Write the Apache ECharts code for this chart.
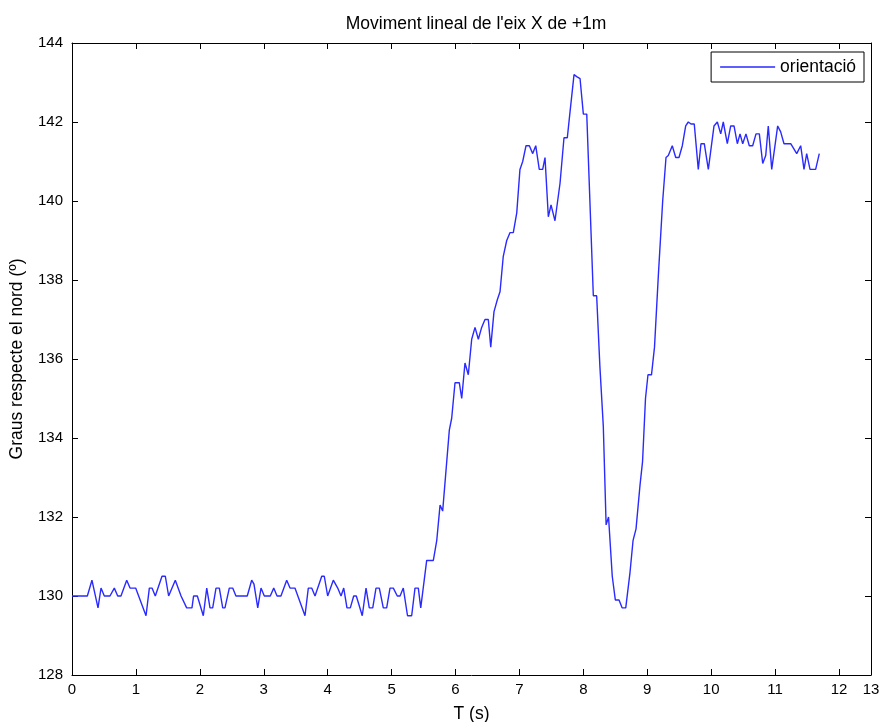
<!DOCTYPE html>
<html>
<head>
<meta charset="utf-8">
<script src="https://cdn.jsdelivr.net/npm/echarts@6/dist/echarts.min.js"></script>
<style>
  html, body { margin: 0; padding: 0; background: #ffffff; }
  #chart { width: 883px; height: 722px; }
</style>
</head>
<body>
<div id="chart"></div>
<script>
// Temps (s) de cada mostra
const timeS = [
  0.0, 0.240, 0.312, 0.407, 0.454, 0.506, 0.594, 0.662, 0.715, 0.766,
  0.856, 0.908, 0.996, 1.158, 1.210, 1.252, 1.303, 1.408, 1.460, 1.512,
  1.616, 1.706, 1.794, 1.877, 1.902, 1.961, 2.054, 2.108, 2.159, 2.201,
  2.253, 2.305, 2.358, 2.393, 2.461, 2.514, 2.565, 2.742, 2.811, 2.847,
  2.906, 2.957, 3.009, 3.102, 3.156, 3.208, 3.269, 3.359, 3.411, 3.488,
  3.645, 3.697, 3.750, 3.802, 3.907, 3.947, 4.000, 4.088, 4.157, 4.209,
  4.251, 4.302, 4.354, 4.407, 4.448, 4.541, 4.600, 4.651, 4.705, 4.756,
  4.808, 4.870, 4.923, 4.975, 5.027, 5.089, 5.132, 5.183, 5.249, 5.314,
  5.366, 5.418, 5.456, 5.549, 5.653, 5.706, 5.758, 5.799, 5.903, 5.940,
  5.992, 6.059, 6.097, 6.148, 6.200, 6.253, 6.305, 6.357, 6.409, 6.461,
  6.513, 6.551, 6.602, 6.654, 6.696, 6.747, 6.801, 6.853, 6.904, 6.958,
  7.008, 7.051, 7.103, 7.155, 7.208, 7.255, 7.310, 7.364, 7.400, 7.452,
  7.494, 7.556, 7.635, 7.697, 7.749, 7.791, 7.854, 7.896, 7.948, 8.000,
  8.053, 8.156, 8.208, 8.259, 8.312, 8.356, 8.394, 8.452, 8.500, 8.558,
  8.606, 8.663, 8.730, 8.777, 8.824, 8.886, 8.926, 8.972, 9.011, 9.066,
  9.113, 9.176, 9.241, 9.293, 9.329, 9.391, 9.445, 9.496, 9.548, 9.601,
  9.642, 9.684, 9.735, 9.798, 9.840, 9.892, 9.955, 10.044, 10.096, 10.149,
  10.189, 10.252, 10.305, 10.357, 10.409, 10.451, 10.493, 10.544, 10.596, 10.649,
  10.701, 10.753, 10.806, 10.853, 10.893, 10.947, 11.040, 11.087, 11.139, 11.244,
  11.338, 11.400, 11.452, 11.494, 11.546, 11.634, 11.691
];

// Orientació (graus respecte el nord)
const orientacio = [
  130.0, 130.0, 130.4, 129.7, 130.2, 130.0, 130.0, 130.2, 130.0, 130.0,
  130.4, 130.2, 130.2, 129.5, 130.2, 130.2, 130.0, 130.5, 130.5, 130.0,
  130.4, 130.0, 129.7, 129.7, 130.0, 130.0, 129.5, 130.2, 129.7, 129.7,
  130.2, 130.2, 129.7, 129.7, 130.2, 130.2, 130.0, 130.0, 130.4, 130.3,
  129.7, 130.2, 130.0, 130.0, 130.2, 130.0, 130.0, 130.4, 130.2, 130.2,
  129.5, 130.2, 130.2, 130.0, 130.5, 130.5, 130.0, 130.4, 130.2, 130.0,
  130.2, 129.7, 129.7, 130.0, 130.0, 129.5, 130.2, 129.7, 129.7, 130.2,
  130.2, 129.7, 129.7, 130.2, 130.2, 130.0, 130.0, 130.2, 129.5, 129.5,
  130.2, 130.2, 129.7, 130.9, 130.9, 131.4, 132.3, 132.15, 134.2, 134.5,
  135.4, 135.4, 135.0, 135.9, 135.6, 136.5, 136.8, 136.5, 136.8, 137.0,
  137.0, 136.3, 137.2, 137.5, 137.7, 138.6, 139.0, 139.2, 139.2, 139.7,
  140.8, 141.0, 141.4, 141.4, 141.2, 141.4, 140.8, 140.8, 141.1, 139.6,
  139.9, 139.5, 140.45, 141.6, 141.6, 142.25, 143.2, 143.15, 143.1, 142.2,
  142.2, 137.6, 137.6, 135.8, 134.3, 131.8, 132.0, 130.5, 129.9, 129.9,
  129.7, 129.7, 130.6, 131.4, 131.7, 132.8, 133.4, 135.0, 135.6, 135.6,
  136.3, 138.2, 140.0, 141.1, 141.15, 141.4, 141.1, 141.1, 141.4, 141.9,
  142.0, 141.95, 141.95, 140.8, 141.45, 141.45, 140.8, 141.9, 142.0, 141.7,
  142.0, 141.45, 141.9, 141.9, 141.45, 141.7, 141.45, 141.7, 141.4, 141.4,
  141.7, 141.7, 140.95, 141.15, 141.9, 140.8, 141.9, 141.75, 141.45, 141.45,
  141.2, 141.4, 140.8, 141.2, 140.8, 140.8, 141.2
];

// Marques de l'eix X: posició i text de cada marca
const xTickValues = [0, 1, 2, 3, 4, 5, 6, 7, 8, 9, 10, 11, 12, 12.5];
const xTickLabels = ['0', '1', '2', '3', '4', '5', '6', '7', '8', '9', '10', '11', '12', '13'];

const seriesName = 'orientació';
const titleText = "Moviment lineal de l'eix X de +1m";
const xAxisName = 'T (s)';
const yAxisName = 'Graus respecte el nord (º)';

const points = timeS.map((t, i) => [t, orientacio[i]]);

const FONT = '"Liberation Sans", Arial, sans-serif';
const axisColor = '#000000';
const lineColor = '#2a2aff';

function baseAxis(extra) {
  return Object.assign({
    type: 'value',
    axisLine: { show: true, onZero: false, lineStyle: { color: axisColor, width: 1 } },
    axisTick: { show: true, inside: true, length: 6, lineStyle: { color: axisColor, width: 1 } },
    splitLine: { show: false },
    axisLabel: { color: '#000', fontFamily: FONT, fontSize: 15 }
  }, extra);
}

function xLabel(v) {
  const i = xTickValues.indexOf(v);
  return i >= 0 ? xTickLabels[i] : '';
}

const chart = echarts.init(document.getElementById('chart'), null, { renderer: 'canvas' });

chart.setOption({
  backgroundColor: '#ffffff',
  animation: false,
  title: {
    text: titleText,
    left: 471,
    textAlign: 'center',
    top: 10,
    textStyle: { fontFamily: FONT, fontSize: 17.5, fontWeight: 'normal', color: '#000' }
  },
  legend: {
    data: [{ name: seriesName, icon: 'rect' }],
    right: 19,
    top: 52,
    orient: 'horizontal',
    backgroundColor: '#ffffff',
    borderColor: '#000',
    borderWidth: 1,
    borderRadius: 0,
    padding: [6, 8, 6, 9],
    itemWidth: 55,
    itemHeight: 1.5,
    itemGap: 6,
    itemStyle: { color: lineColor },
    textStyle: { fontFamily: FONT, fontSize: 17.5, color: '#000', padding: [0, 0, 0, 0] }
  },
  grid: { left: 72, right: 12, top: 43, bottom: 47, containLabel: false, outerBoundsMode: 'none' },
  xAxis: [
    baseAxis({
      min: 0, max: 12.5,
      position: 'bottom',
      name: xAxisName,
      nameLocation: 'middle',
      nameGap: 30,
      nameTextStyle: { fontFamily: FONT, fontSize: 17.5, color: '#000' },
      axisTick: { show: true, inside: true, length: 6, customValues: xTickValues, lineStyle: { color: axisColor, width: 1 } },
      axisLabel: { color: '#000', fontFamily: FONT, fontSize: 15, margin: 7, customValues: xTickValues, formatter: xLabel }
    }),
    baseAxis({
      min: 0, max: 12.5,
      position: 'top',
      axisTick: { show: true, inside: true, length: 6, customValues: xTickValues, lineStyle: { color: axisColor, width: 1 } },
      axisLabel: { show: false }
    })
  ],
  yAxis: [
    baseAxis({
      min: 128, max: 144, interval: 2,
      position: 'left',
      name: yAxisName,
      nameLocation: 'middle',
      nameGap: 46,
      nameTextStyle: { fontFamily: FONT, fontSize: 17.5, color: '#000' },
      axisLabel: { color: '#000', fontFamily: FONT, fontSize: 15, margin: 9 }
    }),
    baseAxis({
      min: 128, max: 144, interval: 2,
      position: 'right',
      axisLabel: { show: false }
    })
  ],
  series: [{
    name: seriesName,
    type: 'line',
    data: points,
    xAxisIndex: 0,
    yAxisIndex: 0,
    symbol: 'none',
    showSymbol: false,
    smooth: false,
    lineStyle: { color: lineColor, width: 1.4 },
    itemStyle: { color: lineColor }
  }]
});
</script>
</body>
</html>
